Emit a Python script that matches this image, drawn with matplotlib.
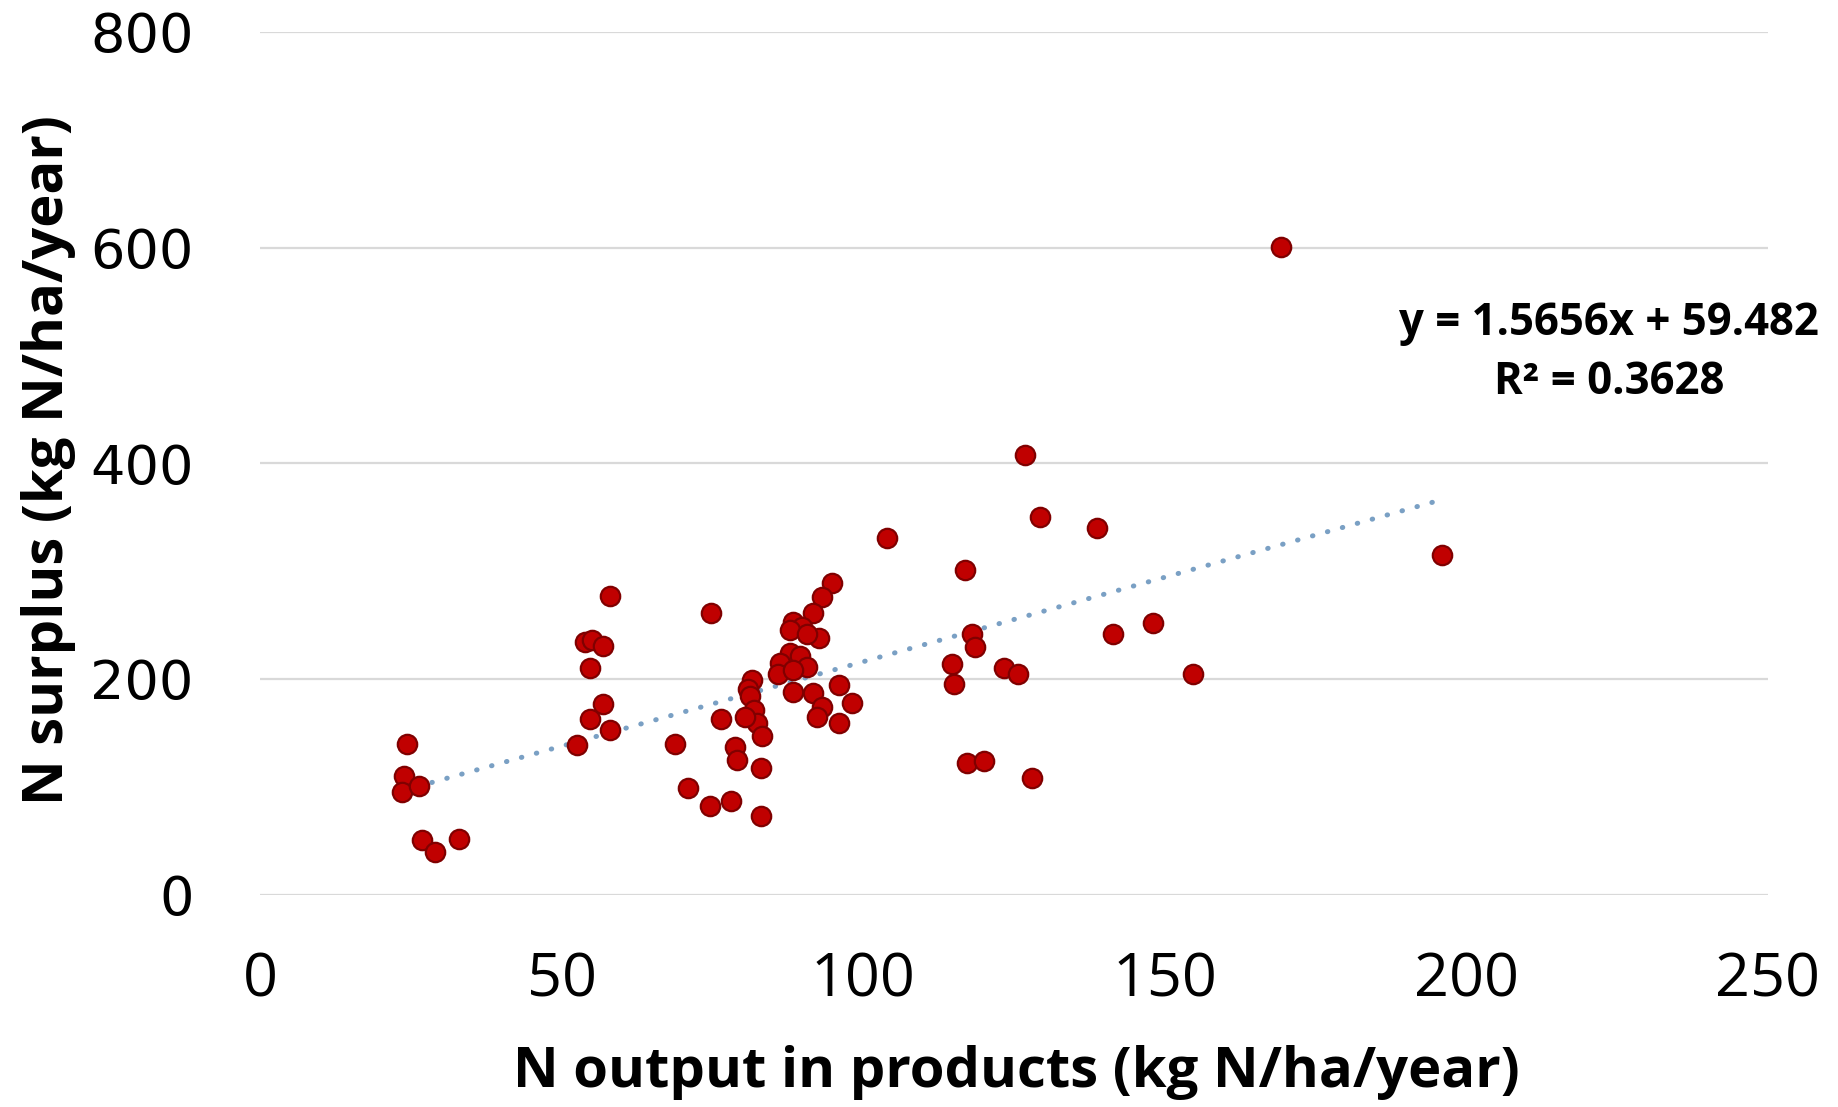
"""
Surplus d'azote vs sortie d'azote dans les produits — nuage de points
avec droite de tendance linéaire (style Excel).
"""
import numpy as np
import matplotlib
matplotlib.use("Agg")
import matplotlib.pyplot as plt


# ============================================================================
# DONNÉES
# ============================================================================
n_output = [
    24.3, 23.8, 23.5, 26.4, 26.8, 28.9, 33.0,
    58.0, 53.8, 55.0, 56.9, 54.7, 56.8, 54.7, 58.0, 52.6,
    68.8, 71.0, 74.7, 74.6, 78.0, 83.0, 83.0, 78.7, 79.0, 76.4,
    81.5, 80.9, 81.2, 81.8, 82.3, 83.2, 80.4,
    94.8, 93.1, 91.7, 88.4, 89.8, 87.9, 92.6, 90.6, 87.9, 89.5,
    86.2, 90.6, 85.9, 88.4, 88.4, 91.7, 95.9, 98.1, 93.1, 92.3, 95.9,
    103.9, 114.7, 115.1, 116.8, 118.0, 118.5, 117.2, 120.1, 123.4,
    125.6, 126.8, 128.0, 129.3, 138.8, 141.4, 148.0, 154.7, 169.3, 196.0,
]
n_surplus = [
    140, 110, 95, 101, 51, 40, 52,
    277, 234, 236, 231, 210, 177, 163, 153, 139,
    140, 99, 261, 82, 87, 73, 117, 137, 125, 163,
    199, 191, 184, 171, 159, 147, 165,
    289, 276, 261, 253, 248, 245, 238, 242, 224, 221,
    215, 211, 205, 208, 188, 187, 194, 178, 174, 165, 159,
    331, 214, 195, 301, 242, 230, 122, 124, 210,
    205, 408, 108, 350, 340, 242, 252, 205, 601, 315,
]

# Droite de tendance affichée sur le graphique
TREND_SLOPE = 1.5656
TREND_INTERCEPT = 59.482
TREND_R2 = 0.3628

X_TICKS = [0, 50, 100, 150, 200, 250]
Y_TICKS = [0, 200, 400, 600, 800]

X_LABEL = "N output in products (kg N/ha/year)"
Y_LABEL = "N surplus (kg N/ha/year)"

POINT_COLOR = "#C00000"
POINT_EDGE = "#800000"
TREND_COLOR = "#7AA0C4"
GRID_COLOR = "#D9D9D9"


def main():
    fig = plt.figure(figsize=(18.38, 11.07), dpi=100)
    ax = fig.add_axes([0.1416, 0.1918, 0.8202, 0.7794])

    # grille horizontale seulement, pas de cadre
    ax.set_xlim(0, 250)
    ax.set_ylim(0, 800)
    ax.set_xticks(X_TICKS)
    ax.set_yticks(Y_TICKS)
    ax.yaxis.grid(True, color=GRID_COLOR, linewidth=1.6)
    ax.set_axisbelow(True)
    for s in ax.spines.values():
        s.set_visible(False)
    ax.tick_params(axis="both", length=0)
    ax.tick_params(axis="y", pad=48)
    ax.tick_params(axis="x", pad=40)
    for lab in ax.get_yticklabels():
        lab.set_fontfamily("DejaVu Sans")
        lab.set_fontsize(39)
    for lab in ax.get_xticklabels():
        lab.set_fontfamily("Open Sans")
        lab.set_fontsize(44)

    # droite de tendance (pointillés)
    xs = np.array([min(n_output), max(n_output)])
    ax.plot(xs, TREND_SLOPE * xs + TREND_INTERCEPT, color=TREND_COLOR,
            linewidth=3.6, linestyle=(0, (0.1, 3.0)), dash_capstyle="round",
            zorder=2)

    ax.scatter(n_output, n_surplus, s=195, color=POINT_COLOR,
               edgecolors=POINT_EDGE, linewidths=1.6, zorder=3)

    ax.text(223.7, 530, f"y = {TREND_SLOPE}x + {TREND_INTERCEPT}",
            ha="center", va="center", fontsize=31.5, fontweight="bold",
            family="Open Sans")
    ax.text(223.7, 475, f"R\u00b2 = {TREND_R2}",
            ha="center", va="center", fontsize=31.5, fontweight="bold",
            family="Open Sans")

    fig.text(0.5528, 1 - 1073 / 1107, X_LABEL, ha="center", va="center",
             fontsize=40.5, fontweight="bold", family="Open Sans")
    fig.text(49 / 1838, 1 - 460 / 1107, Y_LABEL, ha="center", va="center",
             rotation=90, fontsize=40.5, fontweight="bold", family="Open Sans")

    fig.savefig("out.png", dpi=100)


if __name__ == "__main__":
    main()
